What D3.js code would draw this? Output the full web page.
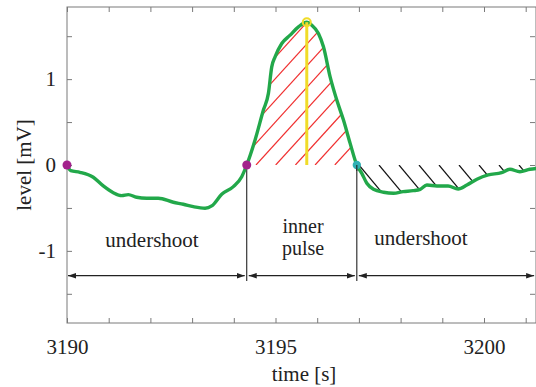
<!DOCTYPE html>
<html>
<head>
<meta charset="utf-8">
<script src="https://cdn.jsdelivr.net/npm/d3@7"></script>
<style>
  html, body { margin: 0; padding: 0; background: #fff; }
  svg { display: block; }
  svg text { font-family: "Liberation Serif", "DejaVu Serif", "Noto Serif", "Times New Roman", Times, serif !important; fill: #222; }
</style>
</head>
<body>
<svg id="chart" width="536" height="387"></svg>
<script>
// ---- data ----
const times = [3190.00, 3190.09, 3190.31, 3190.63, 3190.87, 3191.11, 3191.31, 3191.47, 3191.67, 3191.91,
  3192.19, 3192.55, 3192.79, 3193.03, 3193.31, 3193.47, 3193.71, 3193.99, 3194.19, 3194.31,
  3194.51, 3194.71, 3194.83, 3194.91, 3194.99, 3195.15, 3195.35, 3195.55, 3195.75, 3195.87,
  3196.03, 3196.15, 3196.31, 3196.47, 3196.63, 3196.79, 3196.95, 3197.07, 3197.19, 3197.35,
  3197.59, 3197.83, 3198.06, 3198.30, 3198.47, 3198.63, 3198.87, 3199.14, 3199.38, 3199.59,
  3199.83, 3200.10, 3200.42, 3200.62, 3200.86, 3201.10, 3201.29];
const levels = [0, -0.066, -0.085, -0.143, -0.244, -0.322, -0.357, -0.345, -0.376, -0.387,
  -0.387, -0.434, -0.457, -0.485, -0.503, -0.477, -0.341, -0.252, -0.136, 0,
  0.291, 0.640, 0.834, 1.143, 1.259, 1.415, 1.512, 1.608, 1.663, 1.628,
  1.531, 1.376, 1.027, 0.756, 0.523, 0.252, 0, -0.097, -0.213, -0.283,
  -0.317, -0.329, -0.310, -0.299, -0.283, -0.233, -0.244, -0.244, -0.279, -0.233,
  -0.166, -0.116, -0.090, -0.050, -0.078, -0.050, -0.038];

const startMarkers = [3190.00, 3194.31];   // magenta points (level 0)
const endMarker = 3196.95;                 // teal point (level 0)
const peakTime = 3195.75, peakLevel = 1.663;
const pulseStart = 3194.31, pulseEnd = 3196.95;
const segments = [
  { from: 3190.00, to: 3194.31 },
  { from: 3194.31, to: 3196.95 },
  { from: 3196.95, to: 3201.25 }
];
const xTickValues = d3.range(3190, 3202, 1);
const xTickLabels = [3190, 3195, 3200];
const yTickValues = [-1.5, -1, -0.5, 0, 0.5, 1, 1.5];
const yTickLabels = [-1, 0, 1];

// ---- layout ----
const FONT = "'Liberation Serif', 'DejaVu Serif', 'Noto Serif', serif";
const L = 67, R = 536, T = 7, B = 323;
const svg = d3.select("#chart");
const x = d3.scaleLinear().domain([3190, 3201.247]).range([L, R]);
const y = d3.scaleLinear().domain([-1.84, 1.84]).range([B, T]);
const data = times.map((t, i) => ({ t, v: levels[i] }));

const defs = svg.append("defs");
defs.append("clipPath").attr("id", "plotclip").append("rect")
  .attr("x", L).attr("y", T).attr("width", R - L).attr("height", B - T);

const areaGen = d3.area().x(d => x(d.t)).y0(y(0)).y1(d => y(d.v)).curve(d3.curveMonotoneX);
const pulseData = data.filter(d => d.t >= pulseStart && d.t <= pulseEnd);
const postData = data.filter(d => d.t >= pulseEnd);
defs.append("clipPath").attr("id", "redclip").append("path").attr("d", areaGen(pulseData));
defs.append("clipPath").attr("id", "blackclip").append("path").attr("d", areaGen(postData));

// arrowheads
function marker(id, dir) {
  const m = defs.append("marker").attr("id", id)
    .attr("viewBox", "0 0 10 10").attr("refX", dir > 0 ? 10 : 0).attr("refY", 5)
    .attr("markerWidth", 8).attr("markerHeight", 8).attr("markerUnits", "userSpaceOnUse")
    .attr("orient", "auto");
  m.append("path").attr("d", dir > 0 ? "M0,1.5 L10,5 L0,8.5 Z" : "M10,1.5 L0,5 L10,8.5 Z").attr("fill", "#222");
}
marker("arrEnd", 1);
marker("arrStart", -1);

// ---- hatching ----
const y0px = y(0);
const redG = svg.append("g").attr("clip-path", "url(#redclip)");
const redSlope = 1.1, redSpacing = 19.7, redOrigin = 256;
for (let k = -10; k <= 6; k++) {
  const x0 = redOrigin + k * redSpacing;
  const H = 170;
  redG.append("line").attr("x1", x0).attr("y1", y0px).attr("x2", x0 + H / redSlope).attr("y2", y0px - H)
    .attr("stroke", "#f03030").attr("stroke-width", 1.2);
}
const blackG = svg.append("g").attr("clip-path", "url(#blackclip)");
const bSlope = 1.2, bSpacing = 20, bOrigin = 359;
for (let k = 0; k < 10; k++) {
  const x0 = bOrigin + k * bSpacing;
  const H = 60;
  blackG.append("line").attr("x1", x0).attr("y1", y0px).attr("x2", x0 + H / bSlope).attr("y2", y0px + H)
    .attr("stroke", "#111").attr("stroke-width", 1.2);
}

// ---- axes / frame ----
svg.append("rect").attr("x", L).attr("y", T).attr("width", R - L).attr("height", B - T)
  .attr("fill", "none").attr("stroke", "#7a7a7a").attr("stroke-width", 1);

function styleAxis(g) {
  g.attr("font-family", FONT).attr("font-size", 21);
  g.select(".domain").remove();
  g.selectAll(".tick line").attr("stroke", "#7a7a7a");
  g.selectAll(".tick text").attr("font-family", FONT).attr("font-size", 21).attr("fill", "#222");
}
const fmtX = d => xTickLabels.includes(d) ? String(d) : "";
const fmtY = d => yTickLabels.includes(d) ? (d < 0 ? "-" + Math.abs(d) : String(d)) : "";

svg.append("g").attr("transform", `translate(0,${B})`)
  .call(d3.axisBottom(x).tickValues(xTickValues).tickSize(-5).tickPadding(16).tickFormat(fmtX)).call(styleAxis);
svg.append("g").attr("transform", `translate(0,${T})`)
  .call(d3.axisTop(x).tickValues(xTickValues).tickSize(-5).tickFormat("")).call(styleAxis);
svg.append("g").attr("transform", `translate(${L},0)`)
  .call(d3.axisLeft(y).tickValues(yTickValues).tickSize(-5).tickPadding(11).tickFormat(fmtY)).call(styleAxis);
svg.append("g").attr("transform", `translate(${R - 1},0)`)
  .call(d3.axisRight(y).tickValues(yTickValues).tickSize(-5).tickFormat("")).call(styleAxis);

// ---- segment boundaries and arrows ----
const arrowLevel = -1.289, boundLevel = -1.35;
[pulseStart, pulseEnd].forEach(t => {
  svg.append("line").attr("x1", x(t)).attr("x2", x(t)).attr("y1", y(0)).attr("y2", y(boundLevel))
    .attr("stroke", "#222").attr("stroke-width", 1.1);
});
segments.forEach((s, i) => {
  svg.append("line")
    .attr("x1", x(s.from) + (i === 0 ? 1 : 2)).attr("x2", Math.min(x(s.to) - 2, R - 1))
    .attr("y1", y(arrowLevel)).attr("y2", y(arrowLevel))
    .attr("stroke", "#222").attr("stroke-width", 1.3)
    .attr("marker-start", "url(#arrStart)").attr("marker-end", "url(#arrEnd)");
});

// segment labels
function label(xp, yp, txt, size) {
  svg.append("text").attr("x", xp).attr("y", yp).attr("text-anchor", "middle")
    .attr("font-family", FONT).attr("font-size", size).text(txt);
}
label(152, 247, "undershoot", 21);
label(303, 233, "inner", 20);
label(303, 255, "pulse", 20);
label(421, 245, "undershoot", 21);

// ---- curve ----
const line = d3.line().x(d => x(d.t)).y(d => y(d.v)).curve(d3.curveMonotoneX);
svg.append("path").datum(data).attr("clip-path", "url(#plotclip)")
  .attr("d", line).attr("fill", "none").attr("stroke", "#22a84a").attr("stroke-width", 3.4)
  .attr("stroke-linejoin", "round").attr("stroke-linecap", "round");

// peak
svg.append("line").attr("x1", x(peakTime)).attr("x2", x(peakTime)).attr("y1", y(peakLevel)).attr("y2", y(0))
  .attr("stroke", "#f0dc28").attr("stroke-width", 3);
svg.append("circle").attr("cx", x(peakTime)).attr("cy", y(peakLevel)).attr("r", 4)
  .attr("fill", "none").attr("stroke", "#f0dc28").attr("stroke-width", 2);

// markers
svg.selectAll("circle.start").data(startMarkers).enter().append("circle")
  .attr("cx", d => x(d)).attr("cy", y(0)).attr("r", 4.5).attr("fill", "#a3228c");
svg.append("circle").attr("cx", x(endMarker)).attr("cy", y(0)).attr("r", 4.2).attr("fill", "#2fb0b4");
svg.append("line").attr("x1", x(endMarker)).attr("x2", x(endMarker)).attr("y1", y(0)).attr("y2", y(0) + 6)
  .attr("stroke", "#222").attr("stroke-width", 1.1);

// axis titles
svg.append("text").attr("transform", `translate(31,${(T + B) / 2}) rotate(-90)`)
  .attr("text-anchor", "middle").attr("font-family", FONT).attr("font-size", 21).text("level [mV]");
svg.append("text").attr("x", 304).attr("y", 381).attr("text-anchor", "middle")
  .attr("font-family", FONT).attr("font-size", 21).text("time [s]");
</script>
</body>
</html>
